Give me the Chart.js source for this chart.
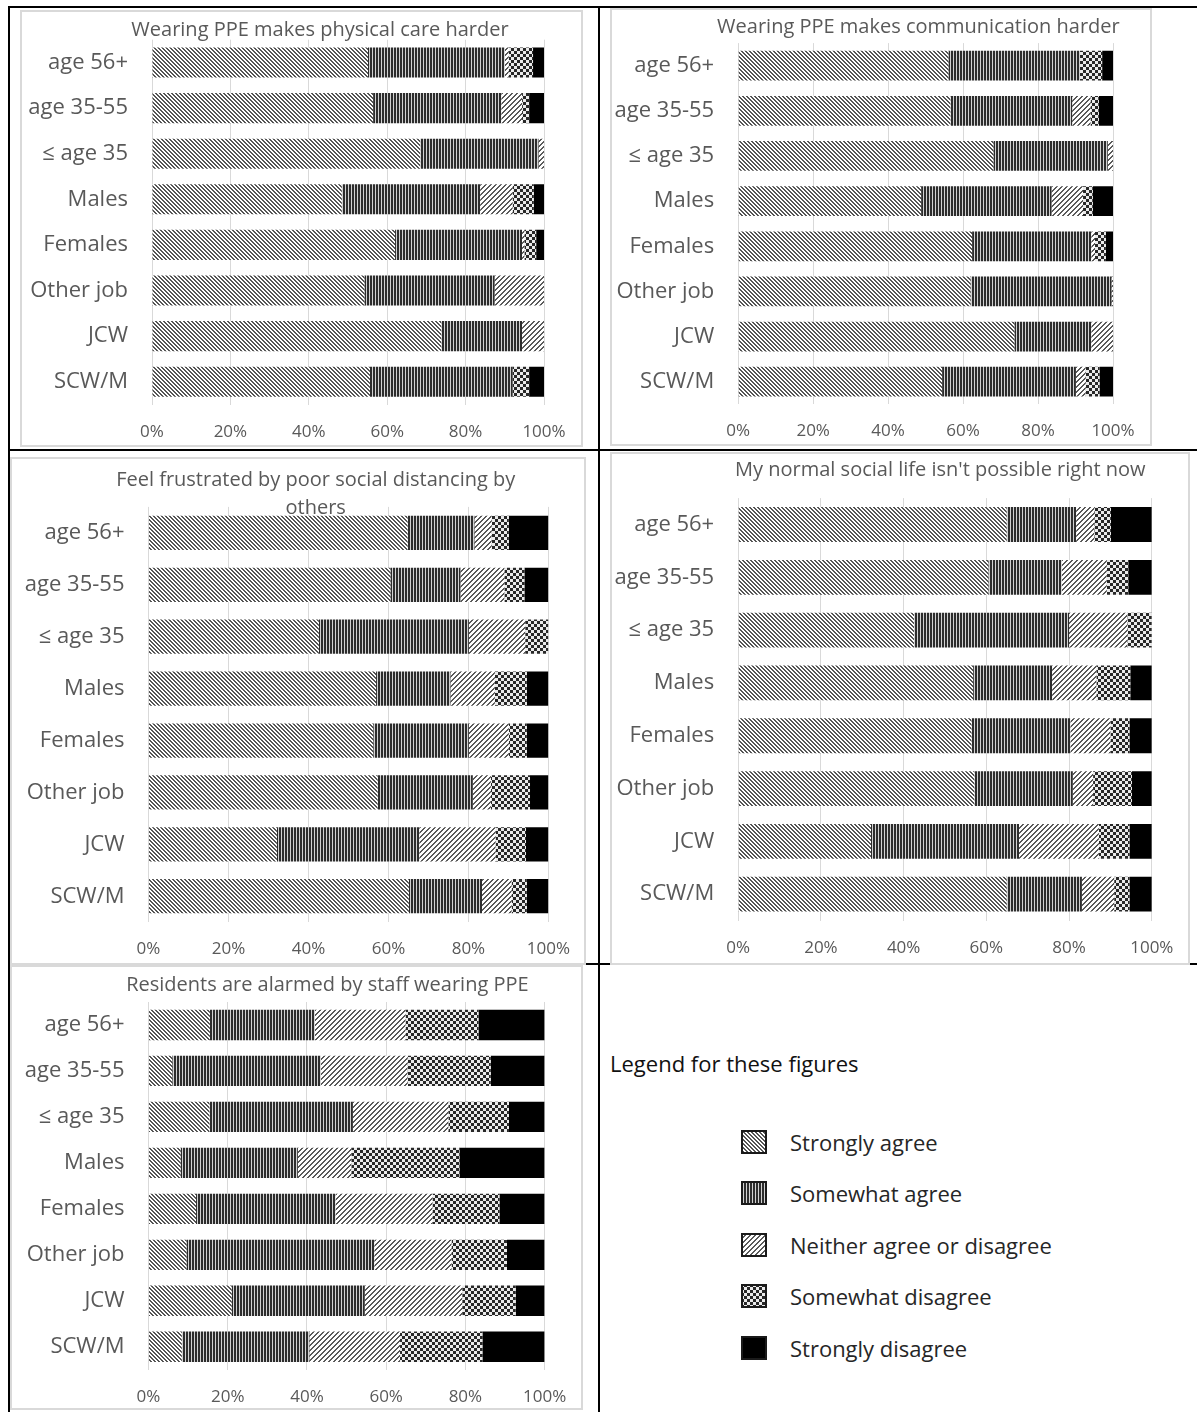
<!DOCTYPE html>
<html>
<head>
<meta charset="utf-8">
<script src="https://cdn.jsdelivr.net/npm/chart.js@4.4.0/dist/chart.umd.min.js"></script>
<style>
body { margin: 0; background: #fff; width: 1197px; height: 1412px; position: relative; overflow: hidden; font-family: "Open Sans", sans-serif; }
.line { position: absolute; background: #000; z-index: 1; }
.box { position: absolute; border: 2px solid #d9d9d9; box-sizing: border-box; background: #fff; z-index: 2; }
.box canvas { position: absolute; left: 0; top: 0; }
#legendTitle { position: absolute; left: 610px; top: 1047px; font-size: 22px; line-height: 32px; color: #111; }
.item { position: absolute; left: 741px; height: 32px; }
.item canvas { position: absolute; left: 0; top: 4px; }
.item span { position: absolute; left: 49px; top: 0; font-size: 22px; line-height: 32px; color: #262626; white-space: nowrap; }
</style>
</head>
<body>

<div class="line" style="left:8px;top:6px;width:1189px;height:2px"></div>
<div class="line" style="left:8px;top:6px;width:2px;height:1406px"></div>
<div class="line" style="left:598px;top:6px;width:2px;height:1406px"></div>
<div class="line" style="left:8px;top:449px;width:1189px;height:2px"></div>
<div class="line" style="left:584px;top:963px;width:613px;height:2px"></div>

<div id="legendTitle">Legend for these figures</div>

<script>
//rows and answers shared by every figure
var categories = ["age 56+", "age 35-55", "\u2264 age 35", "Males", "Females", "Other job", "JCW", "SCW/M"];
var responses = ["Strongly agree", "Somewhat agree", "Neither agree or disagree", "Somewhat disagree", "Strongly disagree"];
var xTickValues = [0, 20, 40, 60, 80, 100];

//Wearing PPE makes physical care harder
var careTitle = ["Wearing PPE makes physical care harder"];
var careStronglyAgree = [55.1, 56.4, 68.4, 48.4, 62.0, 54.2, 73.8, 55.6];
var careSomewhatAgree = [34.9, 32.7, 30.2, 35.3, 32.4, 33.2, 20.6, 36.4];
var careNeither = [1.0, 5.3, 1.4, 8.3, 0.6, 12.6, 5.6, 0.0];
var careSomewhatDisagree = [6.2, 1.8, 0, 5.4, 3.0, 0, 0, 4.2];
var careStronglyDisagree = [2.8, 3.8, 0, 2.6, 2.0, 0, 0, 3.8];

//Wearing PPE makes communication harder
var commTitle = ["Wearing PPE makes communication harder"];
var commStronglyAgree = [56.1, 56.6, 68.1, 48.8, 62.4, 62.0, 73.7, 54.4];
var commSomewhatAgree = [35.1, 32.5, 30.5, 34.8, 31.8, 37.6, 20.5, 35.7];
var commNeither = [0, 4.9, 1.4, 8.4, 1.0, 0.4, 5.8, 2.6];
var commSomewhatDisagree = [5.9, 2.2, 0, 2.6, 2.9, 0, 0, 3.7];
var commStronglyDisagree = [2.9, 3.8, 0, 5.4, 1.9, 0, 0, 3.6];

//Feel frustrated by poor social distancing by others
var distTitle = ["Feel frustrated by poor social distancing by", "others"];
var distStronglyAgree = [64.8, 60.5, 42.6, 56.9, 56.2, 57.3, 32.1, 65.1];
var distSomewhatAgree = [16.7, 17.5, 37.5, 18.6, 23.9, 23.8, 35.6, 18.3];
var distNeither = [4.3, 11.0, 14.1, 11.1, 10.0, 4.5, 19.1, 7.4];
var distSomewhatDisagree = [4.3, 5.0, 5.8, 8.0, 4.5, 9.8, 7.6, 3.8];
var distStronglyDisagree = [9.9, 6.0, 0, 5.4, 5.4, 4.6, 5.6, 5.4];

//My normal social life isn't possible right now
var lifeTitle = ["My normal social life isn't possible right now"];
var lifeStronglyAgree = [64.9, 60.5, 42.5, 56.8, 56.4, 57.1, 32.1, 64.9];
var lifeSomewhatAgree = [16.8, 17.7, 37.5, 19.1, 23.9, 23.8, 35.8, 18.2];
var lifeNeither = [4.4, 10.9, 14.1, 10.7, 9.7, 4.9, 19.3, 7.8];
var lifeSomewhatDisagree = [4.0, 5.2, 5.9, 8.2, 4.6, 9.4, 7.4, 3.7];
var lifeStronglyDisagree = [9.9, 5.7, 0, 5.2, 5.4, 4.8, 5.4, 5.4];

//Residents are alarmed by staff wearing PPE
var alarmTitle = ["Residents are alarmed by staff wearing PPE"];
var alarmStronglyAgree = [15.5, 6.0, 15.4, 8.1, 12.0, 9.6, 21.0, 8.4];
var alarmSomewhatAgree = [26.5, 37.5, 36.2, 29.6, 35.2, 47.4, 33.6, 32.2];
var alarmNeither = [22.9, 21.9, 24.1, 13.5, 24.5, 19.5, 24.6, 22.9];
var alarmSomewhatDisagree = [18.4, 21.0, 15.3, 27.3, 16.9, 14.0, 13.5, 20.8];
var alarmStronglyDisagree = [16.7, 13.6, 9.0, 21.5, 11.4, 9.5, 7.3, 15.7];

//build the hatch fills, one small tile each
function makeTile(kind) {
    var n = {sa: 4, swa: 3, ne: 5, swd: 6, sd: 2}[kind];
    var c = document.createElement("canvas");
    c.width = n;
    c.height = n;
    var g = c.getContext("2d");
    var img = g.createImageData(n, n);
    for (var y = 0; y < n; y++) {
        for (var x = 0; x < n; x++) {
            var v = 255;
            if (kind === "sa") v = ((x - y + 4 * n) % n) < 2 ? 85 : 255;
            if (kind === "swa") v = (x % 3 === 2) ? 210 : 45;
            if (kind === "ne") v = ((x + y) % n) < 2 ? 90 : 255;
            if (kind === "swd") v = ((Math.floor(x / 3) + Math.floor(y / 3)) % 2) ? 40 : 235;
            if (kind === "sd") v = 0;
            var k = (y * n + x) * 4;
            img.data[k] = v; img.data[k + 1] = v; img.data[k + 2] = v; img.data[k + 3] = 255;
        }
    }
    g.putImageData(img, 0, 0);
    return c;
}
var tileKinds = ["sa", "swa", "ne", "swd", "sd"];
var tiles = tileKinds.map(makeTile);
var helper = document.createElement("canvas").getContext("2d");
var patterns = tiles.map(function(t){ return helper.createPattern(t, "repeat"); });

//title drawn where the original sits (it is not centred on the plot)
var panelTitle = {
    id: "panelTitle",
    afterDraw: function(chart, args, o) {
        var ctx = chart.ctx;
        ctx.save();
        ctx.font = '20px "Open Sans"';
        ctx.fillStyle = "#595959";
        ctx.textAlign = "center";
        ctx.textBaseline = "middle";
        o.lines.forEach(function(t, i){ ctx.fillText(t, o.x, o.y + i * 27.6); });
        ctx.restore();
    }
};

function drawChart(box, plot, title, titleAt, values) {
    var wrap = document.createElement("div");
    wrap.className = "box";
    wrap.style.left = box[0] + "px";
    wrap.style.top = box[1] + "px";
    wrap.style.width = box[2] + "px";
    wrap.style.height = box[3] + "px";
    var cv = document.createElement("canvas");
    var W = box[2] - 4, H = box[3] - 4, ox = box[0] + 2, oy = box[1] + 2;
    cv.width = W;
    cv.height = H;
    cv.style.width = W + "px";
    cv.style.height = H + "px";
    wrap.appendChild(cv);
    document.body.appendChild(wrap);

    //turn the wanted plot area into paddings and axis sizes
    var L = plot[0] - ox, R = plot[1] - ox, T = plot[2] - oy, B = plot[3] - oy;

    new Chart(cv, {
        type: "bar",
        data: {
            labels: categories,
            datasets: values.map(function(v, i){
                return {
                    label: responses[i],
                    data: v,
                    backgroundColor: patterns[i],
                    borderWidth: 0,
                    categoryPercentage: 1,
                    barPercentage: 0.66
                };
            })
        },
        plugins: [panelTitle],
        options: {
            indexAxis: "y",
            responsive: false,
            animation: false,
            events: [],
            layout: { autoPadding: false, padding: { left: 0, right: W - R, top: T, bottom: 0 } },
            plugins: {
                legend: { display: false },
                tooltip: { enabled: false },
                title: { display: false },
                panelTitle: { lines: title, x: titleAt[0] - ox, y: titleAt[1] - oy }
            },
            scales: {
                x: {
                    stacked: true,
                    min: 0,
                    max: 100,
                    grid: { color: "#d9d9d9", drawTicks: false },
                    border: { display: false },
                    ticks: {
                        padding: 17,
                        color: "#595959",
                        font: { family: "Open Sans", size: 17 },
                        maxRotation: 0,
                        autoSkip: false,
                        callback: function(v){ return v + "%"; }
                    },
                    afterBuildTicks: function(s){
                        s.ticks = xTickValues.map(function(v){ return { value: v }; });
                    },
                    afterFit: function(s){
                        s.height = H - B;
                        s.paddingLeft = 0;
                        s.paddingRight = 0;
                    }
                },
                y: {
                    stacked: true,
                    grid: { display: false, drawTicks: false },
                    border: { display: false },
                    ticks: {
                        padding: 24,
                        color: "#595959",
                        font: { family: "Open Sans", size: 22 },
                        autoSkip: false
                    },
                    afterFit: function(s){
                        s.width = L;
                        s.paddingTop = 0;
                        s.paddingBottom = 0;
                    }
                }
            }
        }
    });
}

drawChart([20, 10, 563, 437], [152, 544, 39.7, 404.5], careTitle, [320, 30],
    [careStronglyAgree, careSomewhatAgree, careNeither, careSomewhatDisagree, careStronglyDisagree]);
drawChart([610, 8, 542, 438], [738.2, 1113, 43.1, 404.3], commTitle, [918.4, 27.5],
    [commStronglyAgree, commSomewhatAgree, commNeither, commSomewhatDisagree, commStronglyDisagree]);
drawChart([10, 457, 576, 508], [148.5, 548.4, 506.9, 922.2], distTitle, [315.7, 480.5],
    [distStronglyAgree, distSomewhatAgree, distNeither, distSomewhatDisagree, distStronglyDisagree]);
drawChart([610, 452, 580, 513], [738.2, 1151.8, 498.1, 920.6], lifeTitle, [940.3, 470.5],
    [lifeStronglyAgree, lifeSomewhatAgree, lifeNeither, lifeSomewhatDisagree, lifeStronglyDisagree]);
drawChart([10, 965, 573, 445], [148.5, 544.6, 1002, 1369.7], alarmTitle, [327.4, 985.5],
    [alarmStronglyAgree, alarmSomewhatAgree, alarmNeither, alarmSomewhatDisagree, alarmStronglyDisagree]);

//legend for the figures
responses.forEach(function(name, i){
    var cy = 1142 + i * 51.4;
    var item = document.createElement("div");
    item.className = "item";
    item.style.top = (cy - 16) + "px";
    var sw = document.createElement("canvas");
    sw.width = 26;
    sw.height = 24;
    var g = sw.getContext("2d");
    g.fillStyle = g.createPattern(tiles[i], "repeat");
    g.fillRect(0, 0, 26, 24);
    g.strokeStyle = "#1a1a1a";
    g.lineWidth = 2;
    g.strokeRect(1, 1, 24, 22);
    var label = document.createElement("span");
    label.textContent = name;
    item.appendChild(sw);
    item.appendChild(label);
    document.body.appendChild(item);
});
</script>
</body>
</html>
